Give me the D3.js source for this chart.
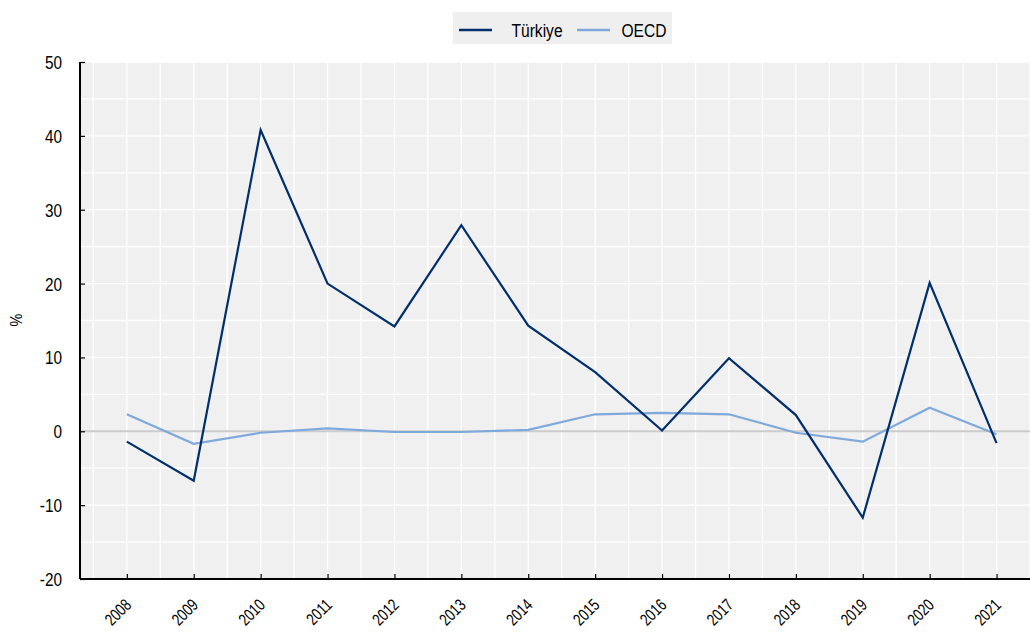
<!DOCTYPE html>
<html><head><meta charset="utf-8">
<script src="https://cdn.jsdelivr.net/npm/d3@7"></script>
<style>body{margin:0;background:#fff;}svg{display:block;font-family:"Liberation Sans",Arial,sans-serif;}</style>
</head><body><svg id="c" width="1030" height="632"></svg>
<script>
const years = [2008,2009,2010,2011,2012,2013,2014,2015,2016,2017,2018,2019,2020,2021];
const turkiye = [-1.4,-6.7,40.8,20.0,14.2,27.9,14.3,8.0,0.1,9.9,2.2,-11.7,20.1,-1.6];
const oecd = [2.3,-1.7,-0.2,0.4,-0.1,-0.1,0.2,2.3,2.5,2.3,-0.2,-1.4,3.2,-0.4];
const yTicks = [-20,-10,0,10,20,30,40,50];
const seriesNames = ["Türkiye","OECD"];
const colors = ["#002F6C","#7FA8DB"];
const FONT = '"Liberation Sans",Arial,sans-serif';

// condense text horizontally (narrow-font look)
function condense(sel, f) {
  sel.each(function () {
    const w = this.getComputedTextLength();
    d3.select(this).attr("textLength", w * f).attr("lengthAdjust", "spacingAndGlyphs");
  });
}

const svg = d3.select("#c");
const L = 80, R = 1030, T = 62, B = 579;
const x = d3.scaleLinear().domain([2007.3, 2021.5]).range([L, R]);
const y = d3.scaleLinear().domain([-20, 50]).range([B, T]);

svg.append("rect").attr("x", L).attr("y", T).attr("width", R - L).attr("height", B - T).attr("fill", "#f0f0f0");

const g = svg.append("g");
const vGrid = d3.range(2007.5, 2021.6, 0.5);
g.selectAll(".vg").data(vGrid).join("line")
  .attr("x1", d => x(d)).attr("x2", d => x(d)).attr("y1", T).attr("y2", B)
  .attr("stroke", "#fff").attr("stroke-width", 1.3);
const hGrid = d3.range(-15, 51, 5);
g.selectAll(".hg").data(hGrid).join("line")
  .attr("x1", L).attr("x2", R).attr("y1", d => y(d)).attr("y2", d => y(d))
  .attr("stroke", "#fff").attr("stroke-width", 1.3);
g.append("line").attr("x1", L).attr("x2", R).attr("y1", y(0)).attr("y2", y(0))
  .attr("stroke", "#cccccc").attr("stroke-width", 2);

const line = d3.line().x((d, i) => x(years[i])).y(d => y(d));
svg.append("path").datum(oecd).attr("d", line).attr("fill", "none").attr("stroke", colors[1]).attr("stroke-width", 2.2);
svg.append("path").datum(turkiye).attr("d", line).attr("fill", "none").attr("stroke", colors[0]).attr("stroke-width", 2.2);

const fmt = d => String(d);
const yAxis = d3.axisLeft(y).tickValues(yTicks).tickSize(-5).tickPadding(18).tickFormat(fmt);
const ya = svg.append("g").attr("transform", `translate(${L},0)`).call(yAxis);
ya.select(".domain").attr("stroke", "#000").attr("stroke-width", 2).attr("d", `M0,${T}V${B}`);
ya.selectAll(".tick line").attr("stroke", "#000").attr("stroke-width", 1.2);
ya.selectAll("text").attr("font-size", 18.5).attr("fill", "#000").attr("font-family", FONT).attr("dy", "0.35em")
  .call(condense, 0.83);

const xAxis = d3.axisBottom(x).tickValues(years).tickSize(-5).tickFormat(fmt);
const xa = svg.append("g").attr("transform", `translate(0,${B})`).call(xAxis);
xa.select(".domain").attr("stroke", "#000").attr("stroke-width", 2).attr("d", `M${L},0H${R}`);
xa.selectAll(".tick line").attr("stroke", "#000").attr("stroke-width", 1.2);
xa.selectAll("text").attr("font-size", 17).attr("fill", "#000")
  .attr("font-family", FONT)
  .attr("text-anchor", "end").attr("dy", null).attr("y", 0)
  .attr("transform", "translate(5,27) rotate(-45)")
  .call(condense, 0.77);

svg.append("text").attr("transform", `translate(21.5,320) rotate(-90)`).attr("text-anchor", "middle")
  .attr("font-size", 17).attr("fill", "#000").attr("font-family", FONT).text("%")
  .call(condense, 0.85);

const lg = svg.append("g");
lg.append("rect").attr("x", 453).attr("y", 12).attr("width", 219).attr("height", 32).attr("fill", "#efefef");
const legLine = [459, 577];
const legText = [511.5, 621.5];
seriesNames.forEach((n, i) => {
  lg.append("line").attr("x1", legLine[i]).attr("x2", legLine[i] + 33).attr("y1", 30).attr("y2", 30)
    .attr("stroke", colors[i]).attr("stroke-width", 2.5);
  lg.append("text").attr("x", legText[i]).attr("y", 37).attr("font-size", 18).attr("fill", "#000")
    .attr("font-family", FONT).text(n).call(condense, 0.865);
});
</script></body></html>
